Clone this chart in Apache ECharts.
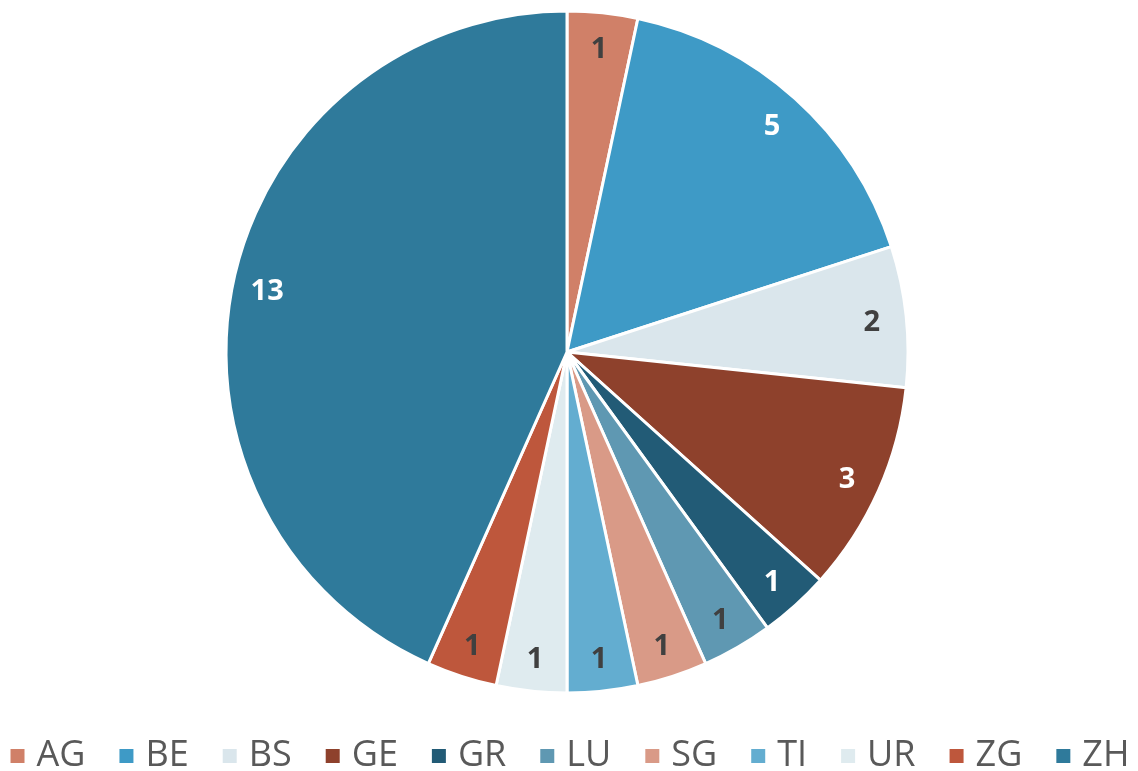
<!DOCTYPE html>
<html>
<head>
<meta charset="utf-8">
<script src="https://cdn.jsdelivr.net/npm/echarts@6/dist/echarts.min.js"></script>
<style>
  html, body { margin: 0; padding: 0; background: #fff; }
  #chart { width: 1138px; height: 771px; }
</style>
</head>
<body>
<div id="chart"></div>
<script>
var cantons = ['AG', 'BE', 'BS', 'GE', 'GR', 'LU', 'SG', 'TI', 'UR', 'ZG', 'ZH'];
var counts = [1, 5, 2, 3, 1, 1, 1, 1, 1, 1, 13];
var colors = ['#D08068', '#3E9AC6', '#DAE6EC', '#8E412C', '#225B76', '#5F98B2',
              '#D99A87', '#63ADD0', '#DFEBEF', '#BE573C', '#2F7A9B'];
// labels on dark slices are white
var lightLabel = [false, true, false, true, true, false, false, false, false, false, true];

var pieData = [];
for (var i = 0; i < cantons.length; i++) {
  pieData.push({ name: cantons[i], value: counts[i], itemStyle: { color: colors[i] } });
}
var labelData = [];
for (var j = 0; j < cantons.length; j++) {
  labelData.push({
    name: cantons[j], value: counts[j],
    label: { color: lightLabel[j] ? '#ffffff' : '#404040' }
  });
}

var chart = echarts.init(document.getElementById('chart'));
chart.setOption({
  animation: false,
  color: colors,
  legend: {
    top: 733,
    left: 'center',
    itemWidth: 16,
    itemHeight: 16,
    itemGap: 32,
    icon: 'rect',
    textStyle: { fontSize: 36, color: '#595959', fontFamily: 'Open Sans', padding: [0, 0, 0, 6] },
    data: cantons
  },
  series: [
    {
      type: 'pie',
      center: [567, 352],
      radius: [0, 341],
      startAngle: 90,
      clockwise: true,
      itemStyle: { borderColor: '#ffffff', borderWidth: 3 },
      label: { show: false },
      labelLine: { show: false },
      emphasis: { disabled: true },
      data: pieData
    },
    {
      type: 'pie',
      center: [567, 352],
      radius: [266, 341],
      startAngle: 90,
      clockwise: true,
      silent: true,
      itemStyle: { color: 'rgba(0,0,0,0)', borderWidth: 0 },
      label: {
        show: true,
        position: 'inside',
        formatter: '{c}',
        fontSize: 29,
        fontWeight: 'bold',
        fontFamily: 'Open Sans',
        offset: [0, 3]
      },
      labelLine: { show: false },
      emphasis: { disabled: true },
      data: labelData
    }
  ]
});
</script>
</body>
</html>
